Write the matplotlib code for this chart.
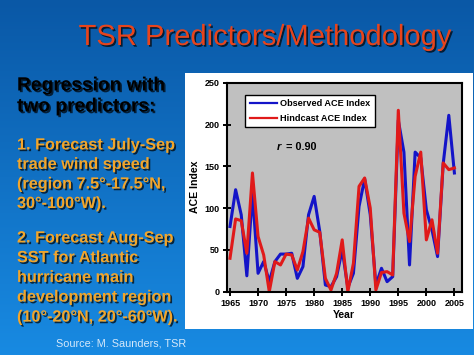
import numpy as np
import matplotlib
matplotlib.use("Agg")
import matplotlib.pyplot as plt
import matplotlib.patheffects as pe
from matplotlib.patches import Rectangle

plt.rcParams['font.family'] = ['Liberation Sans', 'DejaVu Sans']

# ACE index
years = list(range(1965, 2006))
observed = [78, 122, 92, 19, 118, 22, 36, 12, 36, 45,
            45, 46, 16, 30, 92, 114, 72, 8, 6, 18,
            50, 5, 22, 102, 135, 92, 8, 28, 12, 18,
            205, 167, 32, 167, 160, 98, 74, 42, 153, 211,
            142]
hindcast = [40, 87, 85, 46, 142, 66, 44, 0, 36, 32,
            45, 44, 26, 48, 88, 74, 71, 16, 2, 22,
            62, 0, 34, 126, 136, 100, 2, 23, 24, 20,
            217, 94, 60, 138, 167, 62, 86, 46, 154, 146,
            148]
xticks = [1965, 1970, 1975, 1980, 1985, 1990, 1995, 2000, 2005]
yticks = [0, 50, 100, 150, 200, 250]

W, H = 474, 355
fig = plt.figure(figsize=(W / 100, H / 100), dpi=100)

# slide background gradient + white chart panel
bg = fig.add_axes([0, 0, 1, 1], zorder=-5)
bg.set_axis_off()
top = np.array([0x0a, 0x58, 0xa6]) / 255
bot = np.array([0x18, 0x8a, 0xe2]) / 255
t = np.linspace(0, 1, 256)[:, None]
grad = top[None, None, :] * (1 - t[..., None]) + bot[None, None, :] * t[..., None]
grad = np.repeat(grad, 2, axis=1)
bg.imshow(grad, aspect='auto', extent=[0, 1, 0, 1], origin='upper')
bg.set_xlim(0, 1)
bg.set_ylim(0, 1)
bg.add_patch(Rectangle((185 / W, 1 - 329 / H), (473 - 185) / W, (329 - 73) / H,
                       facecolor='white', edgecolor='none', zorder=3))

shadow = [pe.withSimplePatchShadow(offset=(1.2, -1.2), shadow_rgbFace='black', alpha=0.7)]

def px(x, y):
    return x / W, 1 - y / H

fig.text(*px(265, 37), "TSR Predictors/Methodology", fontsize=21, color='#e8441c',
         ha='center', va='center', path_effects=shadow)

fig.text(*px(17, 86), "Regression with", fontsize=13.8, fontweight='bold',
         color='black', ha='left', va='center', path_effects=shadow)
fig.text(*px(17, 107), "two predictors:", fontsize=13.8, fontweight='bold',
         color='black', ha='left', va='center', path_effects=shadow)

orange = '#f2a52a'
lines1 = ["1. Forecast July-Sep", "trade wind speed", "(region 7.5°-17.5°N,", "30°-100°W)."]
lines2 = ["2. Forecast Aug-Sep", "SST for Atlantic", "hurricane main",
          "development region", "(10°-20°N, 20°-60°W)."]
for i, s in enumerate(lines1):
    fig.text(*px(17, 145 + i * 19.4), s, fontsize=11.7, fontweight='bold', color=orange,
             ha='left', va='center', path_effects=shadow)
for i, s in enumerate(lines2):
    fig.text(*px(17, 238 + i * 19.7), s, fontsize=11.7, fontweight='bold', color=orange,
             ha='left', va='center', path_effects=shadow)

fig.text(*px(121, 343), "Source: M. Saunders, TSR", fontsize=7.8, color='#d4e8fa',
         ha='center', va='center')

ax = fig.add_axes([226.7 / W, 1 - 291.7 / H, (461.7 - 226.7) / W, (291.7 - 82.7) / H])
ax.set_facecolor('#c0c0c0')
ax.plot(years, observed, color='#1414c8', lw=2.2, label='Observed ACE Index')
ax.plot(years, hindcast, color='#e01a1a', lw=2.2, label='Hindcast ACE Index')
ax.set_xlim(1964.41, 2006.3)
ax.set_ylim(0, 250)
ax.set_xticks(xticks)
ax.set_yticks(yticks)
ax.tick_params(direction='inout', length=6, width=1.4, labelsize=6.5, pad=2)
for lab in ax.get_xticklabels() + ax.get_yticklabels():
    lab.set_fontweight('bold')
for sp in ax.spines.values():
    sp.set_linewidth(1.5)
ax.set_xlabel("Year", fontsize=7.5, fontweight='bold', labelpad=2)
ax.set_ylabel("ACE Index", fontsize=7.6, fontweight='bold', labelpad=3)
ax.text(1973.4, 173, "r", fontsize=8, fontweight='bold', fontstyle='italic',
        ha='left', va='center')
ax.text(1975.0, 173, "= 0.90", fontsize=7.8, fontweight='bold', ha='left', va='center')
leg = ax.legend(loc='upper left', bbox_to_anchor=(0.078, 0.942), fancybox=False,
                framealpha=1, edgecolor='black', prop={'weight': 'bold', 'size': 6.6},
                handlelength=3.0, borderpad=0.5, labelspacing=0.6, handletextpad=0.3,
                borderaxespad=0)
leg.get_frame().set_linewidth(1.0)
for ln in leg.get_lines():
    ln.set_linewidth(1.6)

fig.savefig("out.png", dpi=100)
